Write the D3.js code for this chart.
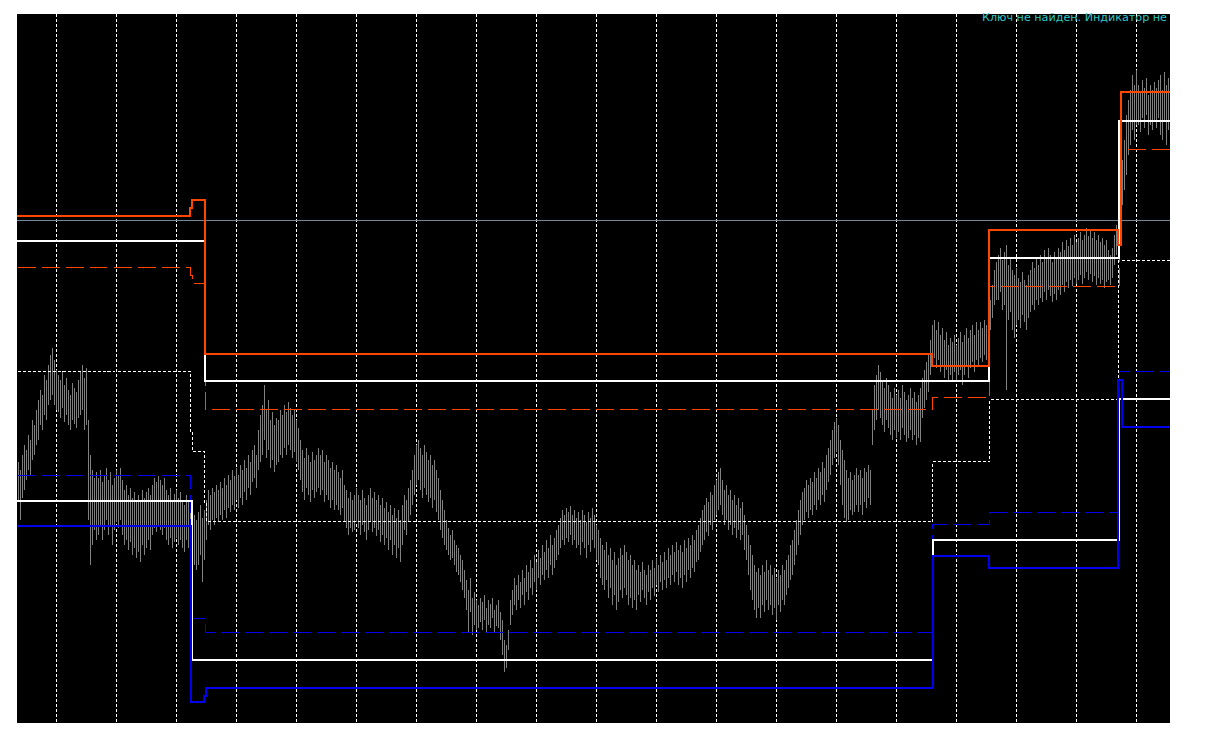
<!DOCTYPE html>
<html><head><meta charset="utf-8">
<script src="https://cdn.jsdelivr.net/npm/d3@7"></script>
<style>html,body{margin:0;padding:0;background:#fff;}svg{display:block;}</style>
</head><body>
<svg id="chart" width="1228" height="740"></svg>
<script>
// ---- bar data (price in points) ----
const highs = [
261,253,268,278,273,288,283,303,298,313, 323,333,328,348,343,358,368,375,363,353,
348,343,351,338,345,333,328,340,335,331, 343,351,358,345,355,303,268,253,245,251,
245,253,241,248,255,243,251,238,245,253, 248,255,243,233,238,228,235,225,231,223,
228,221,233,225,231,235,228,238,245,241, 247,243,238,245,233,228,235,223,229,233,
225,231,223,218,228,221,213,218,208,203, 211,218,205,213,223,233,228,235,231,238,
233,241,235,245,238,248,243,253,247,255, 248,258,253,263,255,268,261,273,278,268,
293,308,318,338,313,323,303,311,298,305, 303,313,308,318,311,321,315,308,313,303,
295,283,273,265,275,268,261,271,263,268, 275,268,273,261,268,263,255,261,253,258,
251,245,253,238,233,225,231,223,228,235, 228,223,233,225,218,228,235,225,231,223,
228,218,225,215,221,211,218,208,215,205, 213,203,218,228,223,235,243,253,268,278,
283,275,268,278,271,263,268,258,263,253, 245,233,223,213,203,195,188,193,183,178,
175,168,163,153,143,133,145,125,131,123, 118,125,121,128,115,123,119,125,113,118,
123,111,103,83,78,93,123,133,145,138, 148,141,153,145,158,151,163,155,168,161,
173,165,178,171,183,175,188,178,185,193, 198,205,213,208,215,211,217,208,213,205,
211,203,213,208,201,211,205,215,208,198, 193,185,178,173,181,168,175,163,171,158,
165,175,168,178,171,163,168,158,163,153, 158,151,161,153,148,158,153,163,155,165,
158,168,161,171,163,175,168,178,171,181, 173,178,171,183,175,185,178,188,183,193,
198,205,213,218,225,221,231,228,238,243, 251,255,243,233,238,228,233,223,228,218,
225,215,221,208,198,188,178,168,158,151, 155,148,158,151,163,153,158,148,155,145,
153,148,158,153,163,168,178,183,193,203, 213,223,231,235,243,238,245,241,251,245,
255,251,261,255,268,275,283,293,301,305, 298,283,273,263,253,245,251,243,248,255,
248,253,245,255,251,258,253,313,338,348, 358,351,343,335,345,338,331,325,335,328,
333,325,338,331,323,328,335,325,331,321, 328,335,345,353,361,368,383,398,403,393,
401,388,395,383,391,378,385,381,388,378, 385,391,381,388,395,385,393,398,388,401,
393,401,395,403,398,405,423,438,453,461, 468,475,463,471,478,458,465,453,448,455,
445,441,451,443,438,448,453,461,455,465, 458,468,461,473,465,475,468,461,471,465,
475,471,481,473,483,477,485,478,488,481, 485,491,483,488,495,487,493,485,491,483,
488,481,485,478,483,473,468,475,488,498, 523,543,563,583,608,623,633,648,638,653,
638,631,643,635,645,628,638,633,641,635, 643,648,633,651,638,645
];
const lows = [
223,203,225,233,243,253,248,263,268,278, 283,298,293,308,303,318,323,328,318,313,
311,305,315,301,308,298,293,303,299,295, 305,308,313,293,298,203,158,178,193,183,
188,198,183,193,203,188,198,178,193,201, 195,203,188,178,183,173,181,168,175,165,
171,161,178,168,175,183,173,188,195,191, 198,193,188,195,183,178,185,175,181,185,
178,183,175,171,183,175,163,168,158,153, 158,168,141,163,183,198,193,203,198,205,
201,208,203,213,205,215,211,218,213,223, 215,225,218,231,223,235,228,241,245,235,
253,261,268,283,265,273,255,263,251,258, 261,268,265,275,268,278,273,265,271,261,
253,243,231,223,235,228,221,233,225,231, 235,228,233,221,228,223,215,223,213,218,
213,208,215,201,195,188,195,191,193,201, 195,188,198,191,183,193,201,191,195,187,
193,181,188,178,185,173,183,168,178,165, 175,161,178,193,188,201,208,218,228,238,
243,233,225,235,228,221,225,215,223,211, 203,193,185,178,173,168,163,165,158,151,
148,141,133,125,113,91,111,88,98,93, 95,101,93,103,91,98,95,105,91,97,
95,83,68,51,55,73,98,108,118,113, 123,115,128,118,131,123,135,128,141,133,
145,138,148,143,153,145,158,148,155,163, 168,175,183,178,185,181,188,178,183,175,
178,168,181,175,165,178,171,183,175,163, 158,145,138,133,143,125,135,118,128,113,
121,133,125,135,128,118,125,115,123,113, 128,121,133,125,118,131,123,135,127,138,
131,141,133,143,135,145,138,148,141,151, 138,145,135,148,141,153,145,155,151,161,
163,171,178,183,191,187,198,193,203,208, 213,218,208,198,203,193,198,188,195,185,
193,183,188,173,163,148,133,123,113,105, 115,105,118,111,123,113,118,108,115,103,
118,111,123,118,128,135,143,148,158,168, 178,188,198,203,211,205,213,208,218,213,
223,218,228,221,233,241,248,258,265,271, 258,238,218,205,201,203,213,208,211,218,
211,218,208,221,215,225,218,278,293,303, 313,305,298,291,303,295,288,283,293,285,
291,283,295,288,281,285,293,283,288,278, 285,281,305,315,323,331,348,361,365,355,
363,351,358,345,353,341,348,343,351,341, 348,353,338,348,358,345,355,361,351,363,
358,365,361,368,363,373,393,405,418,423, 423,431,413,418,333,403,411,393,385,398,
403,395,408,401,393,405,411,418,413,423, 418,425,421,431,423,433,427,421,429,423,
433,428,438,431,441,435,443,437,445,439, 443,448,439,445,451,443,449,441,447,438,
445,439,443,435,441,443,438,445,458,468, 475,488,518,533,548,568,578,593,583,598,
598,591,605,595,608,588,598,593,603,595, 605,588,583,603,578,593
];

// ---- indicator levels: [bar index, price] step points ----
const resistSolid = [[-0.5,507],[86,515],[87,523],[93.5,369],[457,357],[485.5,493],[550,478],[551.5,631],[576,631]];
const resistMid   = [[-0.5,482],[93.5,342],[485.5,465],[550.5,602],[576,602]];
const resistDash  = [[-0.5,456],[86,448],[87,440],[93.5,314],[457,326],[485.5,437],[550.5,574],[576,574]];
const pivotDot    = [[-0.5,352],[86,291],[87,272],[93,220],[94,202],[457,262],[485.5,324],[550,463],[576,463]];
const supportDash = [[-0.5,248],[86,105],[93.5,91],[457,199],[485.5,211],[550.5,352],[576,352]];
const supportMid  = [[-0.5,222],[87,63],[457.5,183],[550.5,324],[576,324]];
const supportSolid= [[-0.5,197],[86.5,21],[93,27],[94,35],[457.5,167],[485.5,155],[550,343],[552,296],[576,296]];
const bidPrice = 503;
const gridBars = [19,49,79,109,139,169,199,229,259,289,319,349,379,409,439,469,499,529,559];
const labelText = "Ключ не найден. Индикатор не";

// ---- layout ----
const L = 17, R = 1170, T = 14, B = 723;
const svg = d3.select("#chart");
svg.append("rect").attr("x",L).attr("y",T).attr("width",R-L).attr("height",B-T).attr("fill","#000");
svg.append("defs").append("clipPath").attr("id","clip")
  .append("rect").attr("x",L).attr("y",T).attr("width",R-L).attr("height",B-T);
const g = svg.append("g").attr("clip-path","url(#clip)");

const x = d3.scaleLinear().domain([0,575]).range([18,1168]);
const y = d3.scaleLinear().domain([0,709]).range([B,T]);

// grid
g.selectAll("line.grid").data(gridBars).join("line").attr("class","grid")
  .attr("x1",d=>Math.round(x(d))+0.5).attr("x2",d=>Math.round(x(d))+0.5)
  .attr("y1",T).attr("y2",B)
  .attr("stroke","#fff").attr("stroke-width",1).attr("stroke-dasharray","3,2")
  .attr("shape-rendering","crispEdges");

// bars
g.selectAll("line.bar").data(highs).join("line").attr("class","bar")
  .attr("x1",(d,i)=>Math.round(x(i))+0.5).attr("x2",(d,i)=>Math.round(x(i))+0.5)
  .attr("y1",d=>y(d)).attr("y2",(d,i)=>y(lows[i]))
  .attr("stroke","#808080").attr("stroke-width",1).attr("shape-rendering","crispEdges");

// bid line
g.append("line").attr("x1",L).attr("x2",R).attr("y1",Math.round(y(bidPrice))+0.5).attr("y2",Math.round(y(bidPrice))+0.5)
  .attr("stroke","#778899").attr("stroke-width",1).attr("shape-rendering","crispEdges");

const line = d3.line().x(d=>Math.round(x(d[0]))).y(d=>Math.round(y(d[1]))).curve(d3.curveStepAfter);
function draw(data,color,w,dash){
  const off = (w % 2 === 1) ? 0.5 : 0;
  g.append("path").attr("d",line(data)).attr("fill","none").attr("stroke",color)
   .attr("transform",`translate(${off},${off})`)
   .attr("stroke-width",w).attr("stroke-dasharray",dash||null)
   .attr("shape-rendering","crispEdges");
}
draw(pivotDot,"#fff",1,"3,2");
draw(resistDash,"#ff4500",1,"18,6");
draw(supportDash,"#0000ee",1,"18,6");
draw(resistMid,"#fff",2);
draw(supportMid,"#fff",2);
draw(resistSolid,"#ff4500",2);
draw(supportSolid,"#0000ee",2);

// label
svg.append("text").attr("x",1167).attr("y",21).attr("text-anchor","end")
  .attr("font-family","'DejaVu Sans', Verdana, sans-serif").attr("font-size",10)
  .attr("textLength",185).attr("lengthAdjust","spacingAndGlyphs")
  .attr("fill","#30c8c8").text(labelText);
</script>
</body></html>
